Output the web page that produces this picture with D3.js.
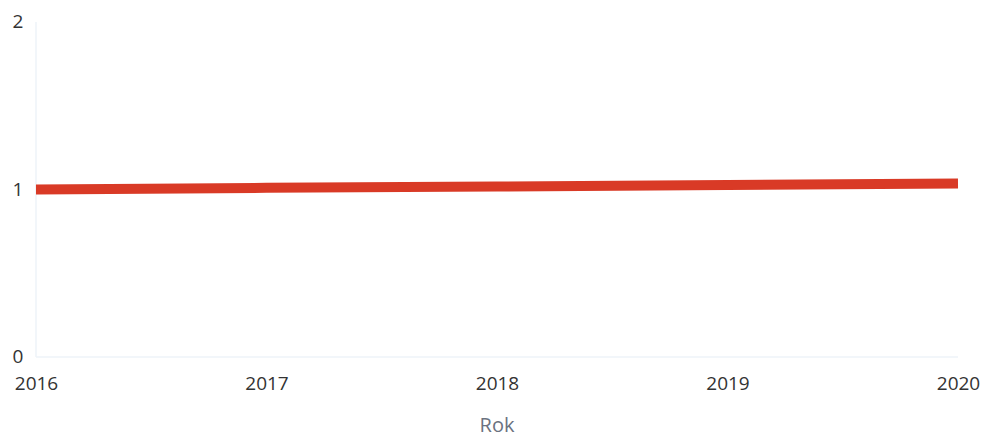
<!DOCTYPE html>
<html><head><meta charset="utf-8">
<script src="https://cdn.jsdelivr.net/npm/d3@7"></script>
<style>body{margin:0;background:#fff;}svg{display:block;font-family:"Open Sans",sans-serif;}</style>
</head><body><svg id="c" width="986" height="438"></svg>
<script>
const years = [2016, 2017, 2018, 2019, 2020];
const values = [1.0, 1.01, 1.018, 1.027, 1.036];
const yTicks = [0, 1, 2];
const xTitle = "Rok";

const svg = d3.select("#c");
const x = d3.scaleLinear().domain([2016, 2020]).range([36, 958]);
const y = d3.scaleLinear().domain([0, 2]).range([357, 22]);

// faint frame lines
svg.append("line").attr("x1", x(2016)).attr("x2", x(2016)).attr("y1", y(2)).attr("y2", y(0))
  .attr("stroke", "#eef3f8").attr("stroke-width", 1.5);
svg.append("line").attr("x1", x(2016)).attr("x2", x(2020)).attr("y1", y(0)).attr("y2", y(0))
  .attr("stroke", "#eef3f8").attr("stroke-width", 1.5);

const yAxis = d3.axisLeft(y).tickValues(yTicks).tickFormat(d3.format("d")).tickSize(0).tickPadding(0);
const gy = svg.append("g").attr("transform", "translate(18,0)").call(yAxis);
gy.select(".domain").remove();
gy.selectAll("text").attr("text-anchor", "middle").attr("fill", "#333").attr("font-size", 19)
  .attr("font-family", "'Open Sans',sans-serif").attr("dy", "0.3em").attr("x", 0);

const xAxis = d3.axisBottom(x).tickValues(years).tickFormat(d3.format("d")).tickSize(0).tickPadding(0);
const gx = svg.append("g").attr("transform", "translate(0,376)").call(xAxis);
gx.select(".domain").remove();
gx.selectAll("text").attr("fill", "#333").attr("font-size", 19).attr("font-family", "'Open Sans',sans-serif");

svg.append("text").attr("x", x(2018)).attr("y", 432).attr("text-anchor", "middle")
  .attr("fill", "#6b7280").attr("font-size", 20).attr("font-family", "'Open Sans',sans-serif").text(xTitle);

const line = d3.line().x((d, i) => x(years[i])).y(d => y(d));
svg.append("path").datum(values).attr("d", line).attr("fill", "none")
  .attr("stroke", "#d93a26").attr("stroke-width", 10).attr("stroke-linecap", "butt");
</script></body></html>
